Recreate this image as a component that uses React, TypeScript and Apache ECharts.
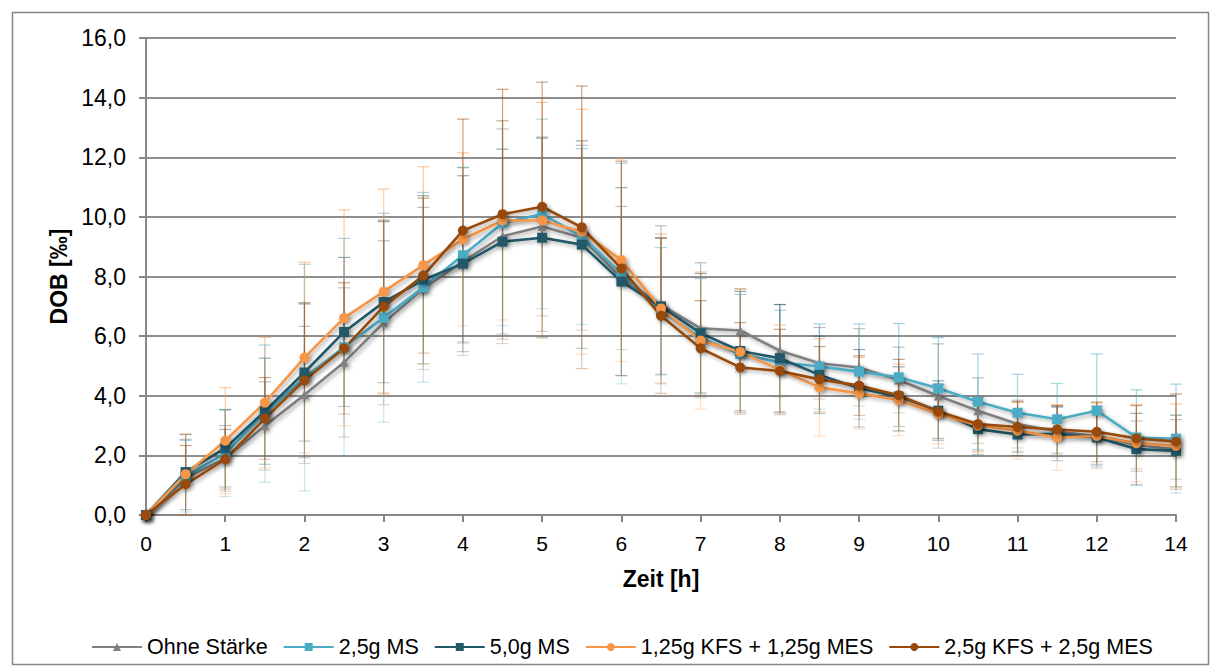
import React, { useEffect, useRef } from "react";
import * as echarts from "echarts";

const hours = ["0","0,5","1","1,5","2","2,5","3","3,5","4","4,5","5","5,5","6","6,5","7","7,5","8","8,5","9","9,5","10","10,5","11","11,5","12","13","14"];

const seriesNames = ["Ohne Stärke", "2,5g MS", "5,0g MS", "1,25g KFS + 1,25g MES", "2,5g KFS + 2,5g MES"];
const seriesColors = ["#808080", "#4bacc6", "#215968", "#f79646", "#984807"];
const seriesSymbols = ["triangle", "rect", "rect", "circle", "circle"];

const ohneStaerke = [0, 1.24, 1.9, 2.99, 4.03, 5.12, 6.45, 7.6, 8.5, 9.35, 9.68, 9.3, 7.95, 7.05, 6.26, 6.19, 5.51, 5.09, 4.95, 4.53, 3.99, 3.5, 3.05, 2.8, 2.65, 2.35, 2.2];
const ms25 = [0, 1.3, 2.07, 3.4, 4.61, 5.63, 6.62, 7.64, 8.71, 9.79, 10.1, 9.34, 8.1, 6.85, 5.93, 5.4, 5.12, 4.98, 4.81, 4.62, 4.25, 3.8, 3.43, 3.21, 3.5, 2.6, 2.56];
const ms50 = [0, 1.44, 2.24, 3.48, 4.78, 6.14, 7.14, 7.89, 8.43, 9.17, 9.3, 9.07, 7.83, 7.0, 6.1, 5.5, 5.26, 4.7, 4.25, 3.97, 3.5, 2.88, 2.7, 2.72, 2.6, 2.21, 2.15];
const kfs125 = [0, 1.37, 2.49, 3.77, 5.28, 6.61, 7.49, 8.38, 9.25, 9.88, 9.88, 9.5, 8.55, 6.93, 5.85, 5.47, 4.87, 4.28, 4.08, 3.86, 3.39, 3.0, 2.83, 2.6, 2.65, 2.41, 2.32];
const kfs25 = [0, 1.03, 1.87, 3.24, 4.52, 5.59, 6.99, 8.03, 9.54, 10.09, 10.34, 9.65, 8.27, 6.68, 5.59, 4.95, 4.83, 4.55, 4.34, 4.02, 3.47, 3.05, 2.95, 2.87, 2.79, 2.57, 2.46];

const errOhneStaerke = [0, 1.3, 1.1, 1.48, 2.3, 2.5, 2.75, 2.72, 3.15, 3.6, 3.0, 3.1, 2.4, 2.65, 2.2, 1.4, 1.55, 1.2, 1.3, 1.1, 1.75, 1.1, 0.8, 0.85, 1.0, 0.8, 1.0];
const errMs25 = [0, 1.2, 1.45, 2.3, 3.8, 3.65, 3.5, 3.18, 2.95, 3.44, 3.18, 2.95, 3.7, 2.12, 2.0, 2.0, 1.75, 1.43, 1.6, 1.8, 1.7, 1.6, 1.29, 1.2, 1.9, 1.6, 1.83];
const errMs50 = [0, 1.26, 1.3, 1.78, 2.3, 2.5, 2.7, 2.82, 2.95, 3.1, 3.34, 3.48, 3.15, 2.3, 2.0, 2.0, 1.8, 1.3, 1.3, 1.0, 1.0, 0.85, 0.7, 0.9, 0.9, 1.2, 1.2];
const errKfs125 = [0, 1.35, 1.78, 2.19, 3.2, 3.62, 3.44, 3.3, 2.9, 3.34, 3.96, 4.11, 3.4, 2.5, 2.3, 2.1, 1.5, 1.63, 1.2, 1.2, 1.0, 0.9, 0.95, 1.1, 1.1, 1.3, 1.4];
const errKfs25 = [0, 1.3, 1.0, 1.37, 2.6, 2.2, 2.9, 2.6, 3.74, 4.19, 4.18, 4.74, 3.6, 2.6, 1.6, 1.5, 1.4, 1.1, 1.0, 1.2, 0.9, 0.9, 0.85, 0.8, 1.0, 1.1, 1.6];

const yTicks = { min: 0, max: 16, interval: 2 };

const allValues = [ohneStaerke, ms25, ms50, kfs125, kfs25];
const allErrors = [errOhneStaerke, errMs25, errMs50, errKfs125, errKfs25];

const FONT = "'Liberation Sans', Arial, Helvetica, sans-serif";

function hexToRgba(hex: string, a: number) {
  const n = parseInt(hex.slice(1), 16);
  return `rgba(${(n >> 16) & 255},${(n >> 8) & 255},${n & 255},${a})`;
}

export default function App() {
  const ref = useRef<HTMLDivElement>(null);
  useEffect(() => {
    document.body.style.margin = "0";
    const chart = echarts.init(ref.current!, null, { renderer: "svg" });

    const errorSeries = allValues.map((vals, s) => ({
      type: "custom",
      name: seriesNames[s] + " err",
      z: 1,
      silent: true,
      data: vals.map((v, i) => [i, Math.max(0, v - allErrors[s][i]), v + allErrors[s][i], v]),
      renderItem: (params: any, api: any) => {
        const x = api.value(0);
        const lo = api.coord([x, api.value(1)]);
        const hi = api.coord([x, api.value(2)]);
        const mid = api.coord([x, api.value(3)]);
        if (Math.abs(hi[1] - lo[1]) < 1) return null;
        const w = 6;
        const upper = { stroke: hexToRgba(seriesColors[s], 0.5), lineWidth: 1.2, fill: "none" };
        const lower = { stroke: hexToRgba(seriesColors[s], 0.3), lineWidth: 1.2, fill: "none" };
        return {
          type: "group",
          children: [
            { type: "line", shape: { x1: mid[0], y1: mid[1], x2: hi[0], y2: hi[1] }, style: upper },
            { type: "line", shape: { x1: lo[0], y1: lo[1], x2: mid[0], y2: mid[1] }, style: lower },
            { type: "line", shape: { x1: hi[0] - w, y1: hi[1], x2: hi[0] + w, y2: hi[1] }, style: upper },
            { type: "line", shape: { x1: lo[0] - w, y1: lo[1], x2: lo[0] + w, y2: lo[1] }, style: lower },
          ],
        };
      },
      encode: { x: 0, y: [1, 2] },
    }));

    const lineSeries = allValues.map((vals, s) => ({
      type: "line",
      name: seriesNames[s],
      data: vals,
      z: 3,
      symbol: seriesSymbols[s],
      symbolSize: seriesSymbols[s] === "triangle" ? 9 : 10,
      showAllSymbol: true,
      color: seriesColors[s],
      lineStyle: {
        width: 2.6,
        color: seriesColors[s],
        shadowColor: "rgba(0,0,0,0.35)",
        shadowBlur: 4,
        shadowOffsetX: 2,
        shadowOffsetY: 2,
      },
      itemStyle: {
        color: seriesColors[s],
        borderWidth: 0,
        shadowColor: "rgba(0,0,0,0.35)",
        shadowBlur: 4,
        shadowOffsetX: 2,
        shadowOffsetY: 2,
      },
    }));

    chart.setOption({
      animation: false,
      backgroundColor: "#ffffff",
      textStyle: { fontFamily: FONT, color: "#000" },
      graphic: [
        {
          type: "rect",
          left: 10,
          top: 10,
          shape: { x: 0, y: 0, width: 1196, height: 652 },
          style: { fill: "none", stroke: "#868686", lineWidth: 1.5 },
          z: -1,
        },
      ],
      grid: { left: 146, top: 38, width: 1030, height: 477, containLabel: false },
      legend: {
        left: 86,
        top: 631,
        itemWidth: 50,
        itemHeight: 10,
        itemGap: 15,
        textStyle: { fontSize: 21.5, fontFamily: FONT, color: "#000" },
        data: seriesNames,
      },
      xAxis: {
        type: "category",
        data: hours,
        boundaryGap: false,
        name: "Zeit [h]",
        nameLocation: "middle",
        nameGap: 52,
        nameTextStyle: { fontSize: 23, fontWeight: "bold", fontFamily: FONT, color: "#000", verticalAlign: "top" },
        axisLine: { show: true, lineStyle: { color: "#868686", width: 2 } },
        axisTick: { show: true, interval: 1, length: 7, lineStyle: { color: "#868686", width: 2 } },
        axisLabel: { interval: 1, fontSize: 21, margin: 18, color: "#000", fontFamily: FONT },
        splitLine: { show: false },
      },
      yAxis: {
        type: "value",
        min: yTicks.min,
        max: yTicks.max,
        interval: yTicks.interval,
        name: "DOB [‰]",
        nameLocation: "middle",
        nameGap: 73,
        nameTextStyle: { fontSize: 23, fontWeight: "bold", fontFamily: FONT, color: "#000" },
        axisLine: { show: true, lineStyle: { color: "#868686", width: 2 } },
        axisTick: { show: true, length: 7, lineStyle: { color: "#868686", width: 2 } },
        axisLabel: {
          fontSize: 23,
          margin: 20,
          color: "#000",
          fontFamily: FONT,
          formatter: (v: number) => v.toFixed(1).replace(".", ","),
        },
        splitLine: { show: true, lineStyle: { color: "#8e8e8e", width: 2 } },
      },
      series: [...errorSeries, ...lineSeries],
    });

    return () => chart.dispose();
  }, []);

  return <div ref={ref} style={{ position: "absolute", left: 0, top: 0, width: 1216, height: 671 }} />;
}
